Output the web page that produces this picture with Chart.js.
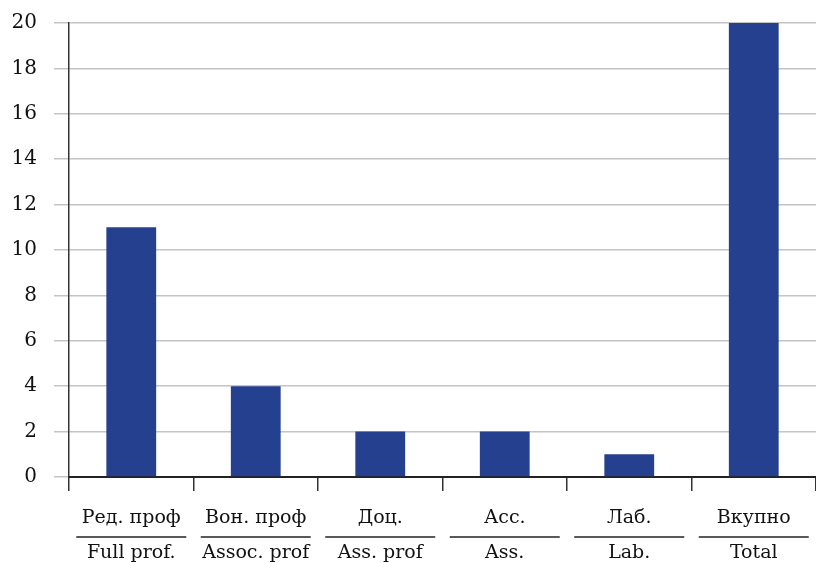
<!DOCTYPE html>
<html>
<head>
<meta charset="utf-8">
<script src="https://cdn.jsdelivr.net/npm/chart.js@4"></script>
<style>
  html, body { margin: 0; padding: 0; background: #fff; }
  #wrap { width: 816px; height: 563px; }
</style>
</head>
<body>
<div id="wrap"><canvas id="staff"></canvas></div>
<script>
var labelsMk = ['Ред. проф', 'Вон. проф', 'Доц.', 'Асс.', 'Лаб.', 'Вкупно'];
var labelsEn = ['Full prof.', 'Assoc. prof', 'Ass. prof', 'Ass.', 'Lab.', 'Total'];
var counts = [11, 4, 2, 2, 1, 20];
var yTicks = [0, 2, 4, 6, 8, 10, 12, 14, 16, 18, 20];

// line between the two label rows
var separators = {
    id : 'separators',
    afterDraw : function(chart) {
        var x = chart.scales.x;
        var ctx = chart.ctx;
        ctx.save();
        ctx.strokeStyle = '#222';
        ctx.lineWidth = 1.5;
        for(var i=0; i<labelsMk.length; i++) {
            var cx = x.getPixelForTick(i);
            ctx.beginPath();
            ctx.moveTo(cx - 55, 537);
            ctx.lineTo(cx + 55, 537);
            ctx.stroke();
        }
        ctx.restore();
    }
};

var ctx = document.getElementById('staff').getContext('2d');
var chart = new Chart(ctx, {
    type : 'bar',
    data : {
        labels : labelsMk.map(function(l, i){ return [l, labelsEn[i]]; }),
        datasets : [{
            data : counts,
            backgroundColor : '#25408e',
            barPercentage : 0.4,
            categoryPercentage : 1
        }]
    },
    options : {
        responsive : true,
        maintainAspectRatio : false,
        animation : false,
        layout : { padding : { top : 23, right : 0, left : 0, bottom : 0 } },
        plugins : {
            legend : { display : false },
            tooltip : { enabled : false }
        },
        scales : {
            x : {
                offset : true,
                grid : {
                    offset : true,
                    drawOnChartArea : false,
                    drawTicks : true,
                    tickLength : 14,
                    color : '#333',
                    lineWidth : 1.5
                },
                border : { display : true, color : '#222', width : 2 },
                ticks : {
                    color : '#111',
                    maxRotation : 0,
                    autoSkip : false,
                    padding : 10,
                    font : { family : 'DejaVu Serif', size : 19, lineHeight : 1.84 }
                },
                afterFit : function(scale) {
                    scale.height = 86;
                    scale.paddingLeft = 0;
                    scale.paddingRight = 0;
                }
            },
            y : {
                min : 0,
                max : 20,
                afterBuildTicks : function(scale) {
                    scale.ticks = yTicks.map(function(v){ return { value : v }; });
                },
                grid : {
                    color : '#c4c4c4',
                    lineWidth : 1.5,
                    tickLength : 15,
                    drawTicks : true
                },
                border : { display : true, color : '#333', width : 1.5 },
                ticks : {
                    color : '#111',
                    padding : 17,
                    font : { family : 'DejaVu Serif', size : 20 }
                },
                afterFit : function(scale) {
                    scale.width = 69;
                    scale.paddingTop = 0;
                    scale.paddingBottom = 0;
                }
            }
        }
    },
    plugins : [separators]
});
</script>
</body>
</html>
